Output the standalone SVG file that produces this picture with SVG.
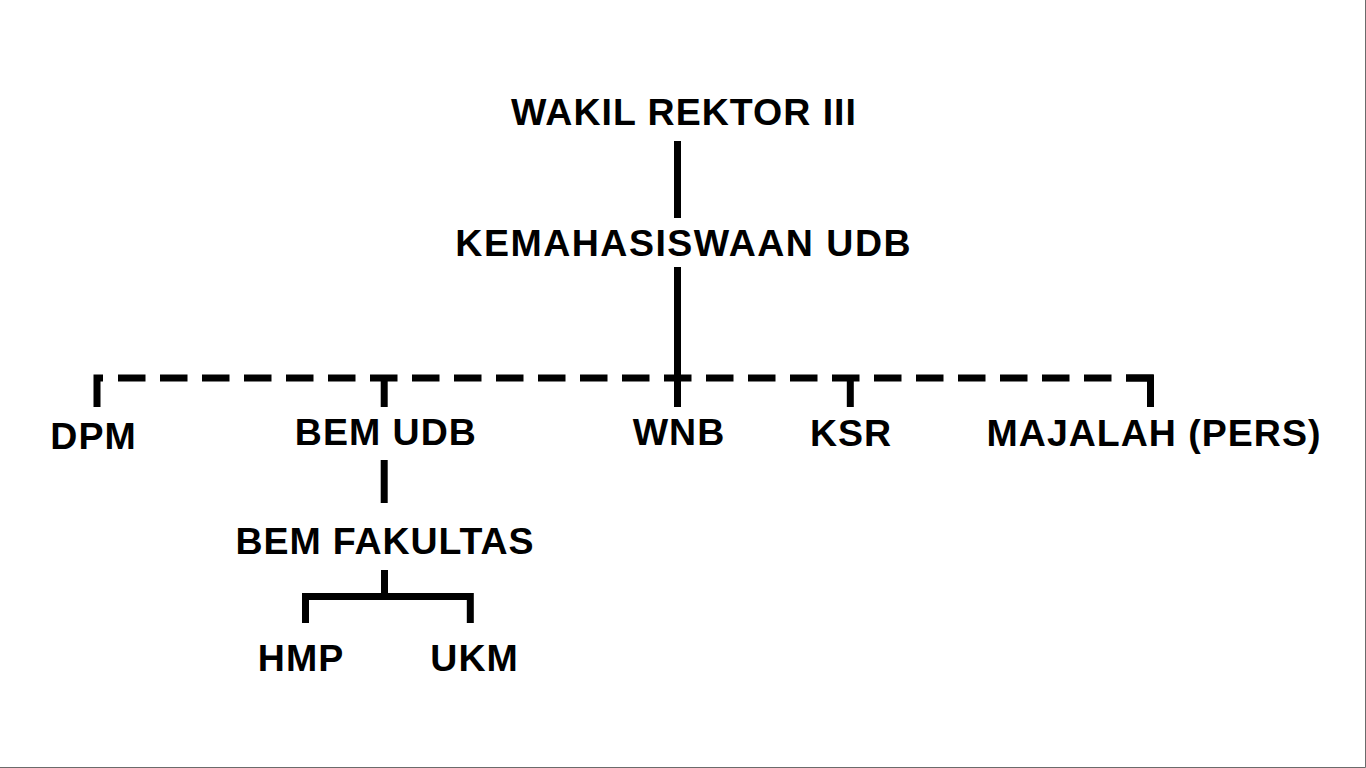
<svg xmlns="http://www.w3.org/2000/svg" width="1366" height="768" viewBox="0 0 1366 768">
  <style>
    .lbl { font-family: "Liberation Sans", Arial, sans-serif; font-weight: bold; font-size: 37.5px; fill: #000; text-anchor: middle; letter-spacing: 1px; }
    .ln { fill: none; stroke: #000; stroke-width: 7; stroke-linecap: butt; stroke-linejoin: miter; }
    .dash { stroke-dasharray: 27.5 14.5; }
  </style>
  <rect x="0" y="0" width="1366" height="768" fill="#fff"/>
  <g id="connectors">
    <path class="ln" d="M677.5,141 V218"/>
    <path class="ln" d="M677.5,267 V407"/>
    <path class="ln dash" d="M118,378 H1154"/>
    <path class="ln" d="M103,378 H97 V407"/>
    <path class="ln" d="M384.2,378 V407"/>
    <path class="ln" d="M850.3,378 V407"/>
    <path class="ln" d="M1126,378 H1150.5 V407"/>
    <path class="ln" d="M384.2,460 V503"/>
    <path class="ln" d="M384.5,570 V596.5"/>
    <path class="ln" d="M305.5,623 V596.5 H470.3 V623"/>
  </g>
  <g id="node-wakil"><text class="lbl" x="684" y="125">WAKIL REKTOR III</text></g>
  <g id="node-kemahasiswaan"><text class="lbl" x="683.7" y="256" style="letter-spacing:1.5px">KEMAHASISWAAN UDB</text></g>
  <g id="node-dpm"><text class="lbl" x="93.5" y="449">DPM</text></g>
  <g id="node-bemudb"><text class="lbl" x="385.8" y="445">BEM UDB</text></g>
  <g id="node-wnb"><text class="lbl" x="679" y="445">WNB</text></g>
  <g id="node-ksr"><text class="lbl" x="851" y="446">KSR</text></g>
  <g id="node-majalah"><text class="lbl" x="1154" y="446">MAJALAH (PERS)</text></g>
  <g id="node-bemfakultas"><text class="lbl" x="385" y="554" style="letter-spacing:0.9px">BEM FAKULTAS</text></g>
  <g id="node-hmp"><text class="lbl" x="301" y="671">HMP</text></g>
  <g id="node-ukm"><text class="lbl" x="474.5" y="671">UKM</text></g>
  <path d="M1365.5,0 V767.5 H0" fill="none" stroke="#6b6b6b" stroke-width="1"/>
</svg>
